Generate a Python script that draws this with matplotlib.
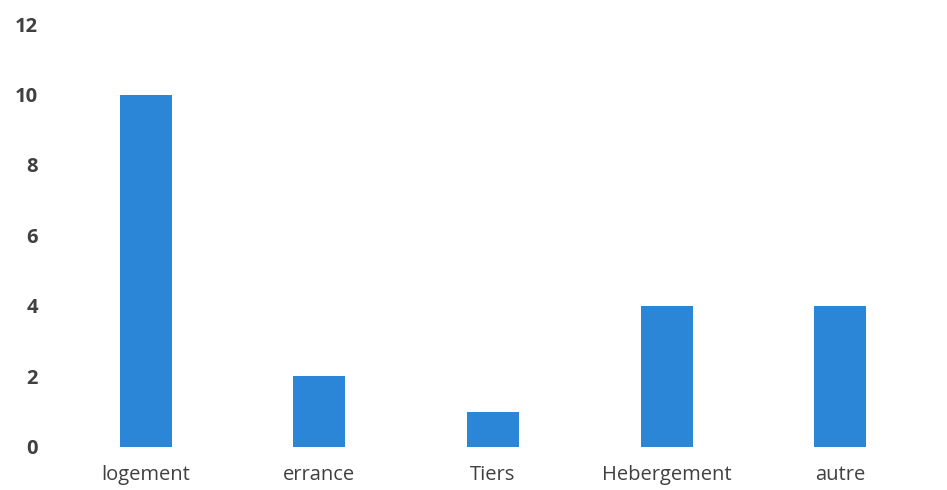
import matplotlib
matplotlib.use("Agg")
import matplotlib.pyplot as plt

# categories and counts
categories = ["logement", "errance", "Tiers", "Hebergement", "autre"]
counts = [10, 2, 1, 4, 4]
yticks = [0, 2, 4, 6, 8, 10, 12]

plt.rcParams['font.family'] = ['Open Sans', 'DejaVu Sans']

fig = plt.figure(figsize=(9.47, 4.90), dpi=100)
ax = fig.add_axes([0.0623, 0.0878, 0.9167, 0.8632])

ax.bar(range(len(categories)), counts, width=0.30, color='#2b86d8')

ax.set_xlim(-0.5, len(categories) - 0.5)
ax.set_ylim(0, 12)
ax.set_yticks(yticks)
ax.set_xticks(range(len(categories)))
ax.set_xticklabels(categories)

for s in ax.spines.values():
    s.set_visible(False)
ax.tick_params(axis='both', length=0, colors='#404040', labelsize=14.5)
ax.tick_params(axis='x', pad=13)
ax.tick_params(axis='y', pad=15)
for lbl in ax.get_yticklabels():
    lbl.set_fontweight('bold')

fig.savefig("out.png", dpi=100)
